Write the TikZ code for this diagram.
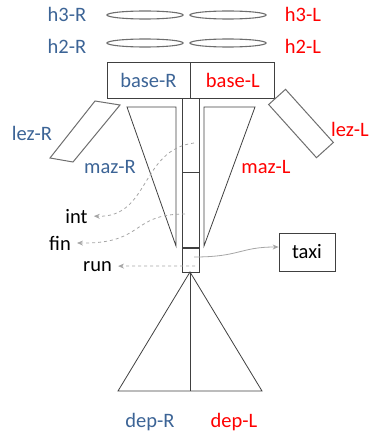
\documentclass[tikz,border=0pt]{standalone}
\usepackage{fontspec}
\setmainfont{Carlito}
\usetikzlibrary{positioning, arrows.meta, shapes.geometric}
\definecolor{sideBlue}{HTML}{3C6496}
\definecolor{sideRed}{HTML}{FF0000}
\definecolor{lineGrey}{HTML}{404040}
\definecolor{ringGrey}{HTML}{6E6E6E}
\definecolor{linkGrey}{HTML}{A6A6A6}

\begin{document}
\begin{tikzpicture}[x=1pt, y=-1pt, font=\fontsize{20.5}{24}\selectfont,
    ring/.style={draw=ringGrey, line width=1.1pt, ellipse, minimum width=76pt,
                 minimum height=8pt, inner sep=0pt},
    part/.style={draw=lineGrey, line width=0.8pt, inner sep=0pt},
    lab/.style={anchor=base, inner sep=3pt},
    link/.style={linkGrey, line width=0.8pt, dashed, -{Stealth[length=6pt, width=5pt]}, shorten >=3pt}]
    \useasboundingbox (0,0) rectangle (370,436);
    % rings
    \node[ring] (h3r) at (145,15) {};
    \node[ring] (h3l) at (228,15) {};
    \node[ring] (h2r) at (145,43) {};
    \node[ring] (h2l) at (228,43) {};
    \node[lab, sideBlue] (h3rt) at (67,22) {h3-R};
    \node[lab, sideRed] (h3lt) at (303,22) {h3-L};
    \node[lab, sideBlue] (h2rt) at (67,54) {h2-R};
    \node[lab, sideRed] (h2lt) at (303,54) {h2-L};
    % base
    \node[part, minimum width=83pt, minimum height=36pt, text=sideBlue] (baser) at (148.5,80) {base-R};
    \node[part, minimum width=84pt, minimum height=36pt, text=sideRed, right=0pt of baser] (basel) {base-L};
    % spine
    \node[part, minimum width=17pt, minimum height=74pt] (sp1) at (191,135) {};
    \node[part, minimum width=17pt, minimum height=75pt, below=0pt of sp1] (sp2) {};
    \node[part, minimum width=17pt, minimum height=24pt, below=0pt of sp2] (sp3) {};
    % lez
    \draw[ringGrey, line width=1pt] (95,101) -- (120,105) -- (73,162) -- (50,158) -- cycle;
    \node[part, draw=ringGrey, line width=1pt, minimum width=71.5pt, minimum height=22.7pt,
          rotate=-48] (lezl) at (301,123.5) {};
    \node[lab, sideBlue] (lezrt) at (32,140) {lez-R};
    \node[lab, sideRed, anchor=base east, inner sep=1pt] (lezlt) at (370,136) {lez-L};
    % maz
    \draw[lineGrey, line width=0.8pt] (127,107) -- (176,107) -- (176,246) -- cycle;
    \draw[lineGrey, line width=0.8pt] (204,107) -- (255,107) -- (204,246) -- cycle;
    \node[lab, sideBlue] (mazrt) at (110,173) {maz-R};
    \node[lab, sideRed] (mazlt) at (266,173) {maz-L};
    % dep
    \draw[lineGrey, line width=0.8pt] (190,272) -- (118,391) -- (262,391) -- cycle;
    \draw[lineGrey, line width=0.8pt] (190,272) -- (190,391);
    \node[lab, sideBlue] (deprt) at (150,427) {dep-R};
    \node[lab, sideRed] (deplt) at (234,427) {dep-L};
    % outputs
    \node[lab] (int) at (76.5,223) {int};
    \node[lab] (fin) at (60,250) {fin};
    \node[lab] (run) at (97.5,271) {run};
    \node[part, minimum width=56pt, minimum height=38pt] (taxi) at (307,252) {taxi};
    \coordinate (c1) at (194,143);
    \coordinate (c2) at (185,214);
    \coordinate (c3) at (195,266);
    \coordinate (c4) at (194,257);
    \draw[link] (c1) .. controls (140,150) and (150,218) .. (int.east);
    \draw[link] (c2) .. controls (130,214) and (145,244) .. (fin.east);
    \draw[link] (c3) -- (run.east);
    \draw[link, solid, shorten >=0pt] (c4) .. controls (240,257) and (240,247) .. ([yshift=5pt]taxi.west);
  \end{tikzpicture}
\end{document}
